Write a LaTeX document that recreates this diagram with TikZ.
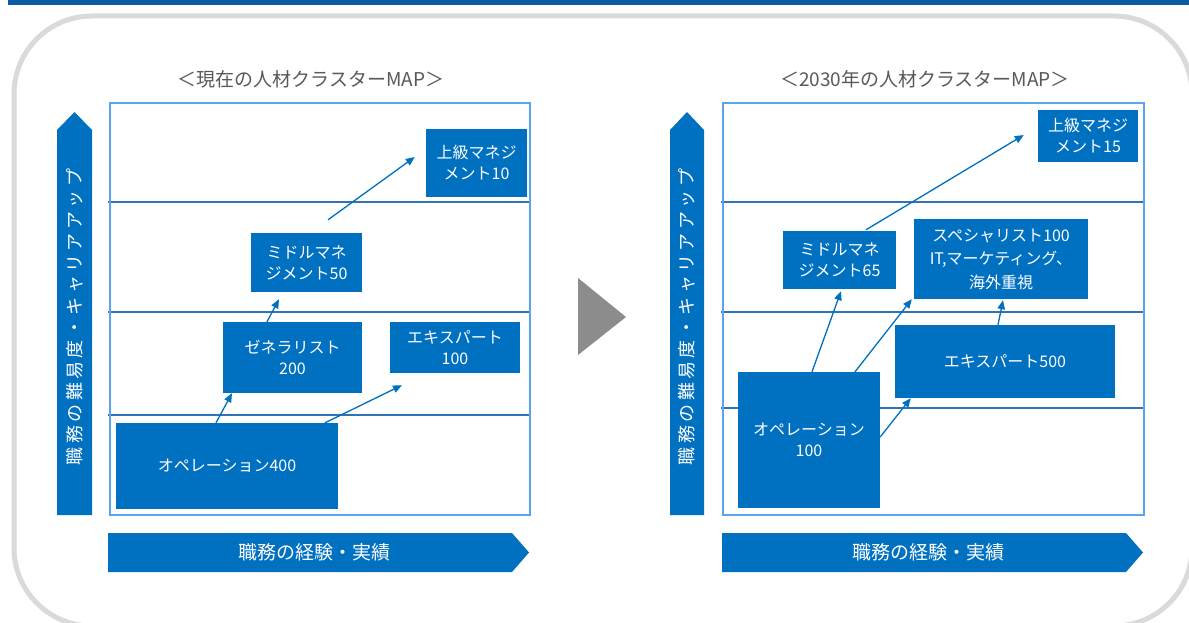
\documentclass[tikz,border=0pt]{standalone}
\usepackage{fontspec}
\setmainfont{Noto Sans CJK JP}
\usetikzlibrary{calc,arrows.meta}
\definecolor{boxblue}{HTML}{0070C0}
\definecolor{framebl}{HTML}{5AA5EC}
\definecolor{linebl}{HTML}{2F74B5}
\definecolor{topbar}{HTML}{0B5CA5}
\definecolor{outline}{HTML}{DADADA}
\definecolor{titlegray}{HTML}{595959}
\definecolor{playgray}{HTML}{8C8C8C}
\tikzset{
  box/.style={fill=boxblue, text=white, inner sep=0pt, align=center,
    font=\fontsize{16}{21}\selectfont},
  arr/.style={draw=boxblue, line width=1.3pt, -{Triangle[length=9pt,width=7.5pt]}},
  maptitle/.style={text=titlegray, font=\fontsize{19}{22}\selectfont},
  axisfill/.style={fill=boxblue},
  axistext/.style={text=white, font=\fontsize{19}{22}\selectfont},
  vaxistext/.style={text=white, rotate=90, font=\addfontfeature{LetterSpace=19}\fontsize{18}{22}\selectfont},
  frame/.style={draw=framebl, line width=1.5pt},
  hline/.style={draw=linebl, line width=1.2pt},
}
\begin{document}
\begin{tikzpicture}[x=1pt,y=-1pt]
\useasboundingbox (0,0) rectangle (1189,623);
\clip (0,0) rectangle (1189,623);
\fill[white] (0,0) rectangle (1189,623);
% top bar
\fill[topbar] (8,0) rectangle (1189,5);
% rounded outline
\draw[outline, line width=5pt, rounded corners=78pt] (14,16) rectangle (1192,626);

% ===== Left panel =====
\node[maptitle] (titleL) at (311,79) {＜現在の人材クラスターMAP＞};
\draw[hline] (108,202) -- (531,202);
\draw[hline] (108,312) -- (531,312);
\draw[hline] (108,415) -- (531,415);
\draw[frame] (110,103) rectangle (530,515);
\fill[axisfill] (57,515) -- (57,130) -- (74.5,112) -- (92,130) -- (92,515) -- cycle;
\node[vaxistext] (vaxL) at (74.5,317) {職務の難易度・キャリアアップ};
\fill[axisfill] (108,533) -- (512,533) -- (529,552.5) -- (512,572) -- (108,572) -- cycle;
\node[axistext] (haxL) at (314,552) {職務の経験・実績};

\node[box, minimum width=101pt, minimum height=68pt] (upL) at (476.5,163) {上級マネジ\\メント10};
\node[box, minimum width=111pt, minimum height=59pt] (midL) at (306.5,262.5) {ミドルマネ\\ジメント50};
\node[box, minimum width=139pt, minimum height=71pt] (genL) at (292.5,357.5) {ゼネラリスト\\200};
\node[box, minimum width=130pt, minimum height=51pt] (expL) at (455,347.5) {エキスパート\\100};
\node[box, minimum width=222pt, minimum height=86pt] (opL) at (227,466) {オペレーション400};

\draw[arr] ($(opL.north)+(-11,0)$) -- ($(genL.south)+(-60.5,0)$);
\draw[arr] ($(opL.north)+(98,0)$) -- ($(expL.south)+(-53,12)$);
\draw[arr] ($(genL.north)+(-25.5,0)$) -- ($(midL.south)+(-27.5,7)$);
\draw[arr] ($(midL.north)+(21.5,-13)$) -- ($(upL.west)+(-11,-6)$);

% play triangle
\fill[playgray] (578,278) -- (626,317) -- (578,355) -- cycle;

% ===== Right panel =====
\node[maptitle] (titleR) at (925,79) {＜2030年の人材クラスターMAP＞};
\draw[hline] (721,202) -- (1145,202);
\draw[hline] (721,312) -- (1145,312);
\draw[hline] (721,408) -- (1145,408);
\draw[frame] (723,103) rectangle (1144,515);
\fill[axisfill] (670,515) -- (670,130) -- (687,112) -- (704,130) -- (704,515) -- cycle;
\node[vaxistext] (vaxR) at (687,317) {職務の難易度・キャリアアップ};
\fill[axisfill] (722,533) -- (1126,533) -- (1143,552.5) -- (1126,572) -- (722,572) -- cycle;
\node[axistext] (haxR) at (928,552) {職務の経験・実績};

\node[box, minimum width=100pt, minimum height=52pt] (upR) at (1088,136) {上級マネジ\\メント15};
\node[box, minimum width=113pt, minimum height=58pt] (midR) at (839.5,260) {ミドルマネ\\ジメント65};
\node[box, minimum width=174pt, minimum height=80pt, font=\fontsize{16}{23.5}\selectfont] (spR) at (1001,259) {スペシャリスト100\\IT,マーケティング、\\海外重視};
\node[box, minimum width=220pt, minimum height=73pt] (expR) at (1005,361.5) {エキスパート500};
\node[box, minimum width=142pt, minimum height=136pt] (opR) at (809,440) {オペレーション\\100};

\draw[arr] ($(opR.north)+(3,0)$) -- ($(midR.south)+(1.5,2)$);
\draw[arr] ($(opR.north)+(46,0)$) -- ($(spR.south west)+(-2,0)$);
\draw[arr] ($(opR.east)+(0,-3)$) -- ($(expR.south west)+(16,0)$);
\draw[arr] ($(expR.north)+(-7,0)$) -- ($(spR.south)+(2,1)$);
\draw[arr] ($(midR.north)+(26.5,-1)$) -- ($(upR.west)+(-14,-1)$);
\end{tikzpicture}
\end{document}
